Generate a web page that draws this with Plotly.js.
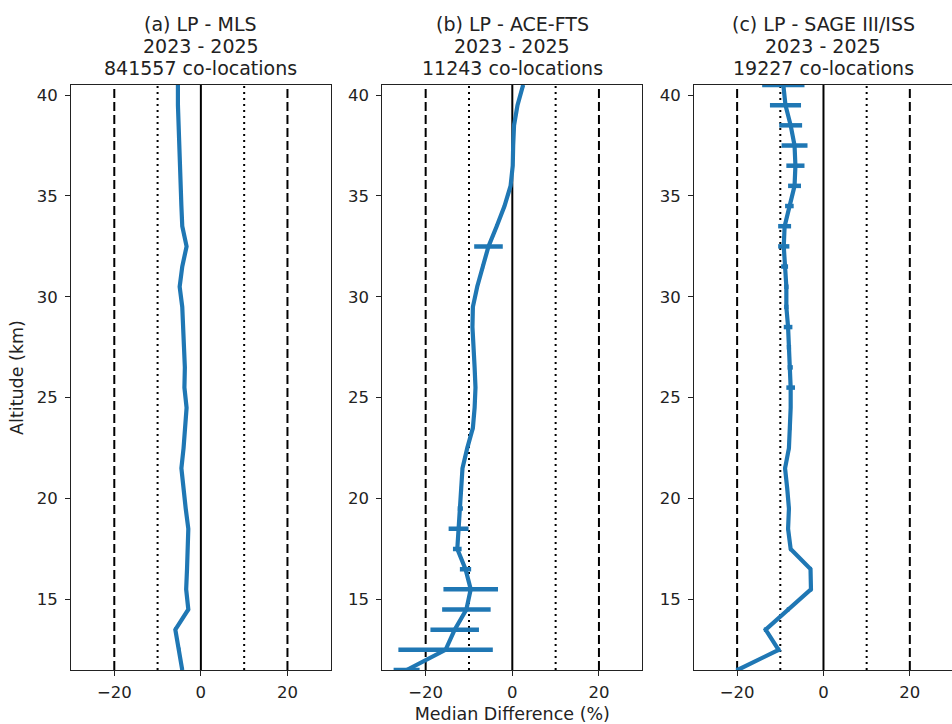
<!DOCTYPE html>
<html>
<head>
<meta charset="utf-8">
<script src="https://cdn.plot.ly/plotly-3.0.1.min.js"></script>
<style>
html,body{margin:0;padding:0;overflow:hidden;background:#fff;}
#chart{width:956px;height:724px;}
</style>
</head>
<body>
<div id="chart"></div>
<script>
// Altitude levels (km)
const altitude = [11.5,12.5,13.5,14.5,15.5,16.5,17.5,18.5,19.5,20.5,21.5,22.5,23.5,24.5,25.5,26.5,27.5,28.5,29.5,30.5,31.5,32.5,33.5,34.5,35.5,36.5,37.5,38.5,39.5,40.5];

// (a) LP - MLS median difference (%)
const mlsDiff = [-4.3,-5.0,-5.9,-2.9,-3.4,-3.2,-3.0,-2.9,-3.5,-4.0,-4.5,-4.0,-3.6,-3.3,-3.8,-3.7,-3.9,-4.0,-4.3,-4.9,-4.3,-3.3,-4.3,-4.5,-4.7,-4.9,-5.0,-5.2,-5.3,-5.3];
const mlsErr  = [0.3,0.3,0.3,0.2,0.2,0.2,0.2,0.2,0.2,0.2,0.2,0.2,0.2,0.2,0.2,0.2,0.2,0.2,0.2,0.2,0.2,0.2,0.2,0.2,0.2,0.2,0.2,0.2,0.2,0.2];

// (b) LP - ACE-FTS
const aceDiff = [-24.4,-15.4,-13.3,-10.6,-9.6,-10.8,-12.7,-12.4,-12.0,-11.8,-11.5,-10.4,-9.1,-8.7,-8.5,-8.7,-9.0,-9.2,-9.1,-8.1,-6.8,-5.5,-3.6,-1.8,-0.4,0.1,0.2,0.4,1.2,2.5];
const aceErr  = [3.0,10.9,5.6,5.6,6.3,1.3,1.0,2.3,0.6,0.3,0.3,0.3,0.3,0.3,0.3,0.3,0.3,0.3,0.3,0.3,0.3,3.3,0.3,0.3,0.3,0.3,0.3,0.3,0.3,0.3];

// (c) LP - SAGE III/ISS
const sageDiff = [-19.9,-10.4,-13.4,-8.2,-2.9,-3.0,-7.6,-8.2,-8.0,-8.4,-8.9,-8.0,-7.7,-7.6,-7.6,-7.7,-8.0,-8.2,-8.6,-8.6,-9.0,-9.2,-9.0,-7.9,-6.7,-6.5,-6.7,-7.6,-8.8,-9.3];
const sageErr  = [0.4,0.4,0.4,0.3,0.3,0.3,0.3,0.3,0.3,0.3,0.3,0.3,0.3,0.3,1.0,0.6,0.5,1.0,0.5,0.5,0.8,1.3,1.5,1.0,1.5,2.1,3.0,2.65,3.6,4.9];

const titleLine1 = ["(a) LP - MLS", "(b) LP - ACE-FTS", "(c) LP - SAGE III/ISS"];
const titleLine2 = ["2023 - 2025", "2023 - 2025", "2023 - 2025"];
const titleLine3 = ["841557 co-locations", "11243 co-locations", "19227 co-locations"];
const refLines = [-20,-10,0,10,20];
const refDash  = ["9px,4px","2px,4px","solid","2px,4px","9px,4px"];
const xTicks = [-20,0,20];
const yTicks = [15,20,25,30,35,40];

const blue = "#1f77b4";
const font = "DejaVu Sans";
const series = [mlsDiff, aceDiff, sageDiff];
const errs = [mlsErr, aceErr, sageErr];
const sfx = ["", "2", "3"];
const domains = [[0.0,0.2945],[0.353,0.6477],[0.7063,1.0]];

const traces = series.map((s,i)=>({
  type:"scatter", mode:"lines",
  x:s, y:altitude,
  xaxis:"x"+sfx[i], yaxis:"y"+sfx[i],
  line:{color:blue,width:4.2},
  error_x:{type:"data",array:errs[i],visible:true,color:blue,thickness:4.5,width:0},
  showlegend:false, hoverinfo:"skip"
}));

const layout = {
  width:956, height:724,
  margin:{l:71,r:3,t:85,b:54},
  paper_bgcolor:"#fff", plot_bgcolor:"#fff",
  font:{family:font,size:16.5,color:"#000"},
  showlegend:false,
  shapes:[], annotations:[]
};

const tickStyle = {
  ticks:"outside", ticklen:5, tickwidth:1, tickcolor:"#222",
  showline:true, linecolor:"#222", linewidth:1, mirror:true,
  showgrid:false, zeroline:false,
  tickfont:{family:font,size:16.5,color:"#222"}
};

for(let i=0;i<3;i++){
  const xa = Object.assign({
    domain:domains[i], range:[-30,30], anchor:"y"+sfx[i],
    tickvals:xTicks, ticktext:xTicks.map(v=>v<0?"\u2212"+Math.abs(v):String(v)),
    ticklabelstandoff:2
  }, tickStyle);
  if(i===1){ xa.title={text:"Median Difference (%)",font:{family:font,size:17.5,color:"#222"},standoff:7}; }
  const ya = Object.assign({
    domain:[0,1], range:[11.5,40.5], anchor:"x"+sfx[i],
    tickvals:yTicks, ticklabelstandoff:4
  }, tickStyle);
  if(i===0){ ya.title={text:"Altitude (km)",font:{family:font,size:17.5,color:"#222"},standoff:8}; }
  layout["xaxis"+sfx[i]] = xa;
  layout["yaxis"+sfx[i]] = ya;

  refLines.forEach((v,k)=>{
    layout.shapes.push({
      type:"line", xref:"x"+sfx[i], yref:"y"+sfx[i]+" domain",
      x0:v, x1:v, y0:0, y1:1,
      line:{color:"#000",width:2,dash:refDash[k]},
      layer:"below"
    });
  });

  [titleLine1[i], titleLine2[i], titleLine3[i]].forEach((t,k)=>{
    layout.annotations.push({
      text:t, xref:"x"+sfx[i]+" domain", yref:"paper",
      x:0.5, y:1, xanchor:"center", yanchor:"bottom", yshift:[50.5,28.5,6.5][k],
      height:21, valign:"middle", borderpad:0,
      showarrow:false, align:"center",
      font:{family:font,size:19,color:"#222"}
    });
  });
}

Plotly.newPlot("chart", traces, layout, {staticPlot:true, displayModeBar:false});
</script>
</body>
</html>
